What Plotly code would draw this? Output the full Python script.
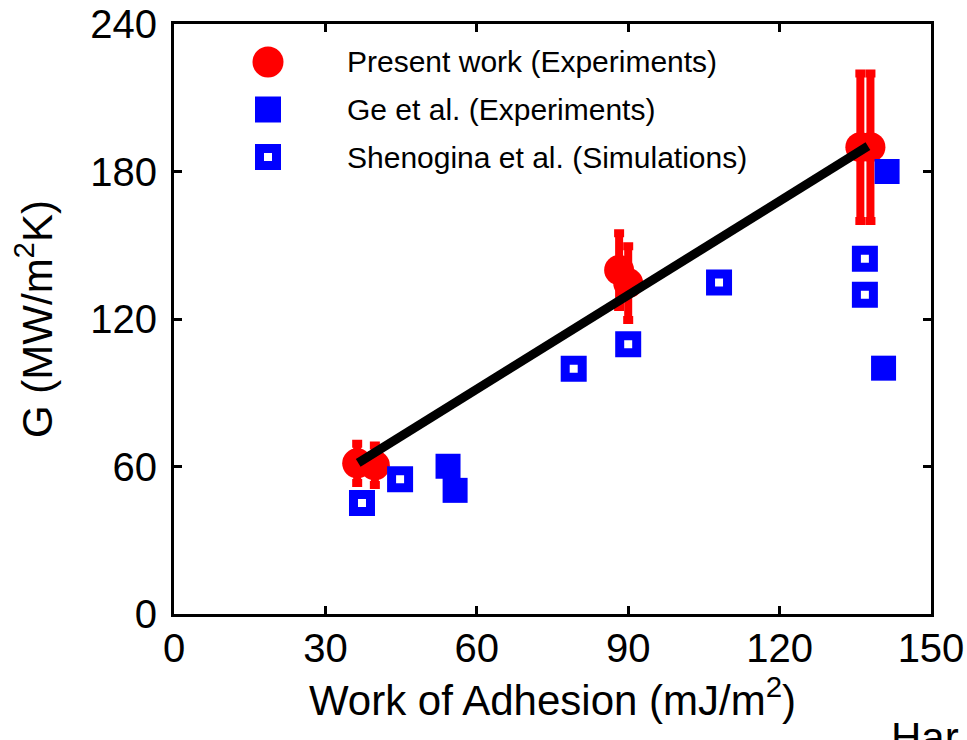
import plotly.graph_objects as go

# Present work (experiments): work of adhesion, conductance, error half-width
PRESENT_X = [36.3, 39.8, 88.2, 90.0, 136.0, 138.0]
PRESENT_Y = [61.3, 60.5, 139.9, 134.6, 189.9, 189.9]
PRESENT_ERR = [8, 8, 15, 15, 30, 30]

# Ge et al. (experiments)
GE_X = [54.3, 55.7, 141.3, 140.6]
GE_Y = [60.1, 50.3, 180.0, 100.0]

# Shenogina et al. (simulations)
SHEN_X = [37.25, 44.8, 79.2, 90.0, 108.0, 136.9, 136.9]
SHEN_Y = [45.2, 54.8, 99.8, 109.7, 134.8, 144.5, 129.9]

# Linear trend through the present data
FIT_X = [36.5, 137.5]
FIT_Y = [61.5, 190.3]

X_TICKS = [0, 30, 60, 90, 120, 150]
Y_TICKS = [0, 60, 120, 180, 240]

LEGEND_LABELS = [
    "Present work (Experiments)",
    "Ge et al. (Experiments)",
    "Shenogina et al. (Simulations)",
]

RED = "#ff0000"
BLUE = "#0000ff"
FONT = "Arial, 'Liberation Sans', sans-serif"

W, H = 967, 740
ML, MR, MT, MB = 174, 36, 24, 126


def paper_x(p):
    return (p - ML) / (W - ML - MR)


def paper_y(p):
    return 1 - (p - MT) / (H - MT - MB)


fig = go.Figure()

fig.add_trace(go.Scatter(
    x=PRESENT_X, y=PRESENT_Y, mode="markers", name=LEGEND_LABELS[0],
    marker=dict(symbol="circle", size=30, color=RED, line=dict(width=0)),
    error_y=dict(type="data", array=PRESENT_ERR, color=RED, thickness=8, width=5),
    showlegend=False,
))
fig.add_trace(go.Scatter(
    x=GE_X, y=GE_Y, mode="markers", name=LEGEND_LABELS[1],
    marker=dict(symbol="square", size=25, color=BLUE, line=dict(width=0)),
    showlegend=False,
))
fig.add_trace(go.Scatter(
    x=SHEN_X, y=SHEN_Y, mode="markers", name=LEGEND_LABELS[2],
    marker=dict(symbol="square-open", size=17, color=BLUE, line=dict(width=9, color=BLUE)),
    showlegend=False,
))
fig.add_trace(go.Scatter(
    x=FIT_X, y=FIT_Y, mode="lines", line=dict(color="black", width=9),
    showlegend=False,
))

# Hand-built legend: keys as pixel-sized shapes, labels as annotations
key_x = 268
label_x = 345
rows_y = [62, 109.5, 157]
shapes = []
common = dict(xref="paper", yref="paper", xsizemode="pixel", ysizemode="pixel",
              xanchor=paper_x(key_x))
shapes.append(dict(type="circle", yanchor=paper_y(rows_y[0]), x0=-15.5, x1=15.5,
                   y0=-15.5, y1=15.5, fillcolor=RED, line=dict(width=0), **common))
shapes.append(dict(type="rect", yanchor=paper_y(rows_y[1]), x0=-13, x1=13,
                   y0=-13, y1=13, fillcolor=BLUE, line=dict(width=0), **common))
shapes.append(dict(type="rect", yanchor=paper_y(rows_y[2]), x0=-8.5, x1=8.5,
                   y0=-8.5, y1=8.5, fillcolor="rgba(0,0,0,0)",
                   line=dict(width=9, color=BLUE), **common))

annotations = []
for label, ry in zip(LEGEND_LABELS, rows_y):
    annotations.append(dict(
        text=label, xref="paper", yref="paper", x=paper_x(label_x), y=paper_y(ry),
        xanchor="left", yanchor="middle", showarrow=False,
        font=dict(family=FONT, size=30, color="black"),
    ))

annotations.append(dict(
    text="Har", xref="paper", yref="paper", x=paper_x(889), y=paper_y(712),
    xanchor="left", yanchor="top", showarrow=False,
    font=dict(family=FONT, size=42, color="black"),
))

axis_common = dict(
    showline=True, linewidth=3, linecolor="black", mirror="ticks",
    ticks="inside", ticklen=8, tickwidth=3, tickcolor="black",
    showgrid=False, zeroline=False, automargin=False,
    tickfont=dict(family=FONT, size=40, color="black"),
)

fig.update_layout(
    width=W, height=H,
    margin=dict(l=ML, r=MR, t=MT, b=MB, autoexpand=False),
    paper_bgcolor="white", plot_bgcolor="white",
    font=dict(family=FONT, color="black"),
    shapes=shapes,
    annotations=annotations,
    xaxis=dict(
        range=[0, 150], tickvals=X_TICKS, ticklabelstandoff=-3,
        title=dict(text="Work of Adhesion (mJ/m<sup>2</sup>)",
                   font=dict(family=FONT, size=42, color="black"), standoff=0),
        **axis_common,
    ),
    yaxis=dict(
        range=[0, 240], tickvals=Y_TICKS, ticklabelstandoff=6,
        title=dict(text="G (MW/m<sup>2</sup>K)",
                   font=dict(family=FONT, size=42, color="black"), standoff=25),
        **axis_common,
    ),
)

fig.write_html("out.html")
